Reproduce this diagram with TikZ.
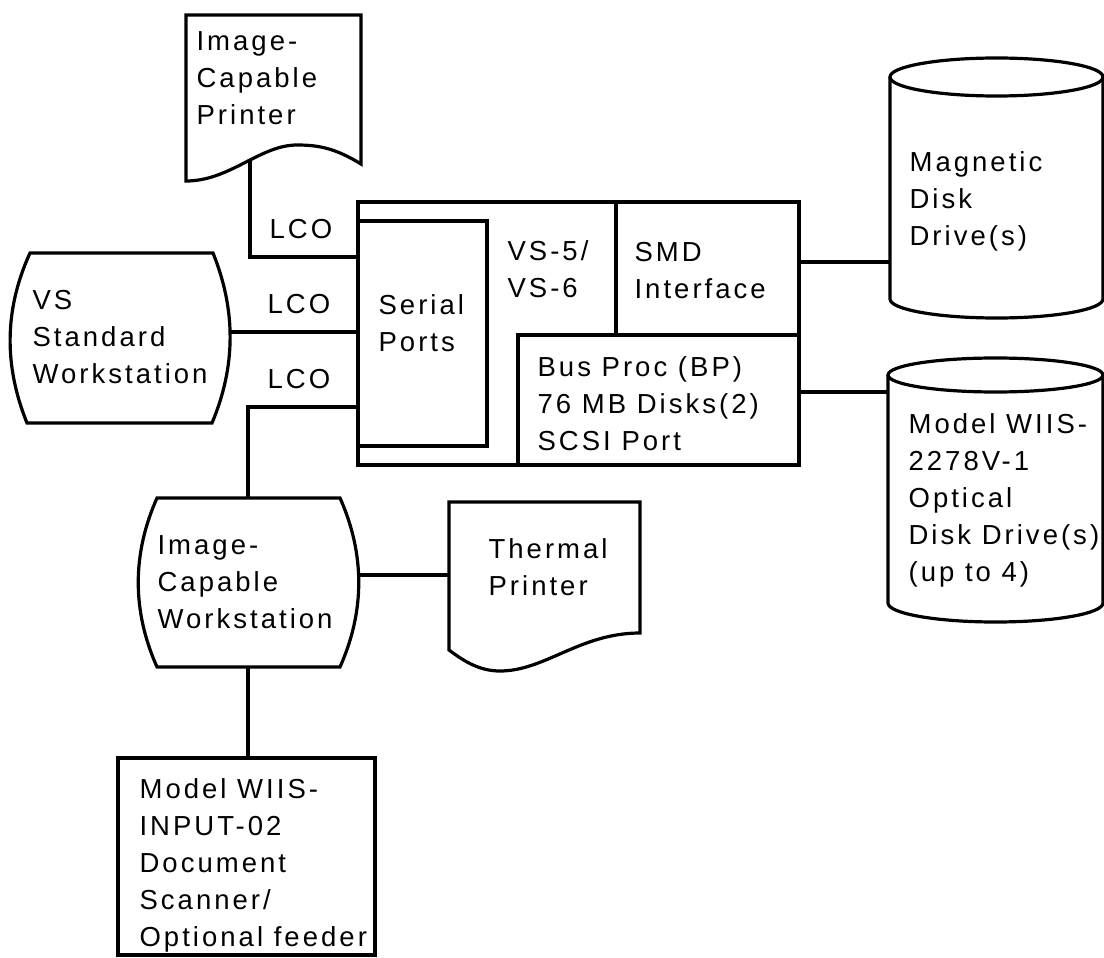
\documentclass[tikz,border=0pt]{standalone}
\usepackage{fontspec}
\newfontfamily\labfont{Liberation Sans}[LetterSpace=11]
\begin{document}
\begin{tikzpicture}[x=1pt,y=-1pt,
  line width=3.2pt,
  txt/.style={anchor=north west,inner sep=0pt,align=left,
    font=\labfont\fontsize{27.5}{37}\selectfont},
  box/.style={draw,line width=3.2pt,inner sep=0pt,minimum width=#1},
  conn/.style={draw,line width=3.2pt}]
\useasboundingbox (0,0) rectangle (1104,958);

% ---------- Image-Capable Printer (document shape)
\draw (186,181) -- (186,15) -- (361,15) -- (361,164)
  .. controls (335,148) and (318,145) .. (297,145)
  .. controls (260,145) and (230,181) .. (186,181) -- cycle;
\coordinate (prb) at (250,161);
\node[txt] (prtext) at (195,23.1) {\strut Image-\\Capable\\Printer};

% ---------- main system box
\node[box=441pt,minimum height=263pt] (main) at (578.5,333.5) {};
\node[box=129pt,minimum height=225pt] (serial) at (422.5,333.5) {};
\node[box=183pt,minimum height=133pt] (smd) at (707.5,268.5) {};
\node[box=281pt,minimum height=130pt] (bp) at (658.5,400) {};
\node[txt] (serialtext) at (377,287.1) {\strut Serial\\Ports};
\node[txt] (vstext) at (506,233.1) {\strut VS-5/\\VS-6};
\node[txt] (smdtext) at (633,234.1) {\strut SMD\\Interface};
\node[txt] (bptext) at (536,349.1) {\strut Bus Proc (BP)\\76 MB Disks(2)\\SCSI Port};

\coordinate (pin1) at (358,257);
\coordinate (pin2) at (358,332);
\coordinate (pin3) at (358,407);
\coordinate (pout1) at (799,262);
\coordinate (pout2) at (799,392);

% ---------- LCO labels
\node[txt] (lco1) at (268,211.1) {\strut LCO};
\node[txt] (lco2) at (266,286.1) {\strut LCO};
\node[txt] (lco3) at (266,361.1) {\strut LCO};

% ---------- VS Standard Workstation
\draw (30,253) -- (213,253)
  .. controls (236,310) and (236,366) .. (212,423) -- (27,423)
  .. controls (4,366) and (4,310) .. (30,253) -- cycle;
\coordinate (vssE) at (230,332);
\node[txt] (vsstext) at (31,282.1) {\strut VS\\Standard\\Workstation};

% ---------- Image-Capable Workstation
\draw (157,498) -- (340,498)
  .. controls (365,554) and (365,611) .. (340,667) -- (157,667)
  .. controls (132,611) and (132,554) .. (157,498) -- cycle;
\coordinate (icwN) at (248,498);
\coordinate (icwE) at (358.5,575);
\coordinate (icwS) at (248,667);
\node[txt] (icwtext) at (156,527.1) {\strut Image-\\Capable\\Workstation};

% ---------- Thermal Printer
\draw (449,650) -- (449,502) -- (640,502) -- (640,633)
  .. controls (580,633) and (545,671) .. (500,671)
  .. controls (480,671) and (465,662) .. (449,650) -- cycle;
\coordinate (tpW) at (449,575);
\node[txt] (tptext) at (487,531.1) {\strut Thermal\\Printer};

% ---------- Document Scanner
\node[box=257pt,minimum height=197pt] (scan) at (246.5,856.5) {};
\node[txt] (scantext) at (138,771.1) {\strut Model WIIS-\\INPUT-02\\Document\\Scanner/\\Optional feeder};

% ---------- Magnetic Disk Drive(s)
\draw (996.5,77) ellipse [x radius=106.5, y radius=19];
\draw (890,77) -- (890,299)
  .. controls (890,309.5) and (937.7,318) .. (996.5,318)
  .. controls (1055.3,318) and (1103,309.5) .. (1103,299) -- (1103,77);
\coordinate (mdW) at (890,262);
\node[txt] (mdtext) at (908,144.1) {\strut Magnetic\\Disk\\Drive(s)};

% ---------- Optical Disk Drive(s)
\draw (995.5,375) ellipse [x radius=107.5, y radius=17];
\draw (888,375) -- (888,603)
  .. controls (888,613.5) and (936.1,622) .. (995.5,622)
  .. controls (1054.9,622) and (1103,613.5) .. (1103,603) -- (1103,375);
\coordinate (odW) at (888,392);
\node[txt] (odtext) at (907,406.1) {\strut Model WIIS-\\2278V-1\\Optical\\Disk Drive(s)\\(up to 4)};

% ---------- connectors
\draw[conn] (prb) |- (pin1);
\draw[conn] (vssE) -- (pin2);
\draw[conn] (pin3) -| (icwN);
\draw[conn] (icwE) -- (tpW);
\draw[conn] (icwS) -- (icwS |- scan.north);
\draw[conn] (pout1) -- (mdW);
\draw[conn] (pout2) -- (odW);
\end{tikzpicture}
\end{document}
